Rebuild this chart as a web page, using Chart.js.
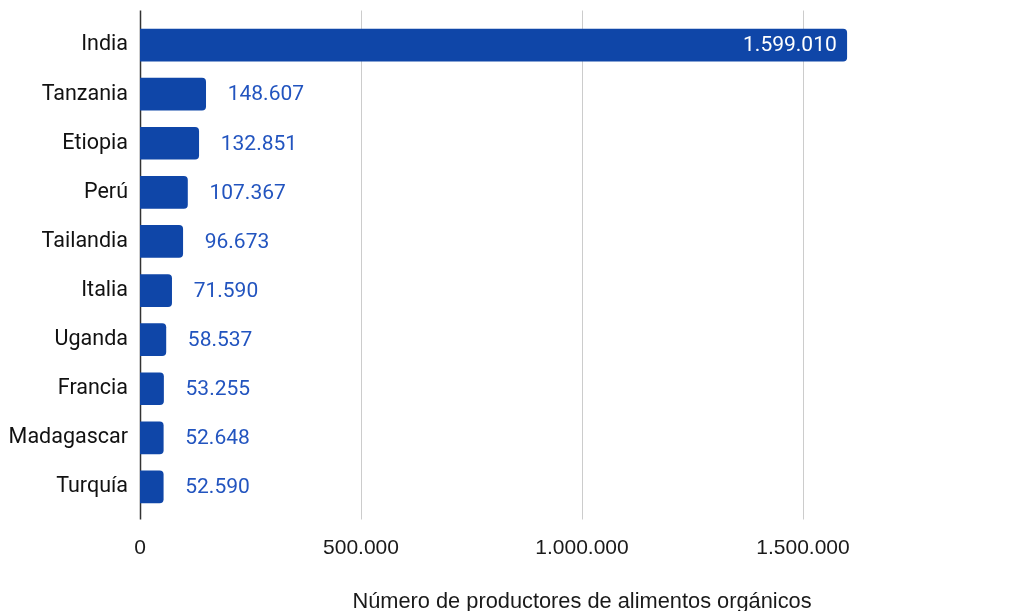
<!DOCTYPE html>
<html>
<head>
<meta charset="utf-8">
<script src="https://cdn.jsdelivr.net/npm/chart.js@4"></script>
<style>
  html, body { margin: 0; padding: 0; background: #ffffff; overflow: hidden; }
  #frame { width: 1014px; height: 611px; overflow: hidden; }
  /* the plot runs a little past the right edge of the picture */
  #wrap { width: 1024px; height: 611px; }
</style>
</head>
<body>
<div id="frame"><div id="wrap"><canvas id="chart"></canvas></div></div>
<script>
//-----------------------------------------------------------------------------
// data
//-----------------------------------------------------------------------------
const countries = ["India", "Tanzania", "Etiopia", "Perú", "Tailandia",
                   "Italia", "Uganda", "Francia", "Madagascar", "Turquía"];
const producers = [1599010, 148607, 132851, 107367, 96673,
                   71590, 58537, 53255, 52648, 52590];
const tickValues = [0, 500000, 1000000, 1500000];
const axisMax = 2000000;
const axisTitle = "Número de productores de alimentos orgánicos";

const barColor = "#0f46a8";
const labelColor = "#2254bf";

// es-ES style thousands separator
const fmt = v => String(v).replace(/\B(?=(\d{3})+(?!\d))/g, ".");

//-----------------------------------------------------------------------------
// grid lines + left axis, drawn a bit taller than the category band
//-----------------------------------------------------------------------------
const extendedGrid = {
    id: "extendedGrid",
    beforeDatasetsDraw(chart){
        const { ctx, chartArea, scales } = chart;
        const top = chartArea.top - 10;
        const bottom = chartArea.bottom + 8;
        ctx.save();
        ctx.lineWidth = 1;
        ctx.strokeStyle = "#cccccc";
        tickValues.forEach(v => {
            if (v === 0) return;
            const x = Math.round(scales.x.getPixelForValue(v)) + 0.5;
            ctx.beginPath();
            ctx.moveTo(x, top);
            ctx.lineTo(x, bottom);
            ctx.stroke();
        });
        ctx.strokeStyle = "#333333";
        ctx.lineWidth = 1.5;
        const x0 = Math.round(scales.x.getPixelForValue(0)) + 0.5;
        ctx.beginPath();
        ctx.moveTo(x0, top);
        ctx.lineTo(x0, bottom);
        ctx.stroke();
        ctx.restore();
    }
};

//-----------------------------------------------------------------------------
// value labels: inside the long bar, outside the others
//-----------------------------------------------------------------------------
const valueLabels = {
    id: "valueLabels",
    afterDatasetsDraw(chart){
        const { ctx } = chart;
        const meta = chart.getDatasetMeta(0);
        ctx.save();
        ctx.font = "21px Roboto";
        ctx.textBaseline = "middle";
        meta.data.forEach((bar, i) => {
            const text = fmt(producers[i]);
            const w = ctx.measureText(text).width;
            if (bar.x - bar.base > w + 30){
                ctx.fillStyle = "#ffffff";
                ctx.textAlign = "right";
                ctx.fillText(text, bar.x - 10, bar.y + 1);
            } else {
                ctx.fillStyle = labelColor;
                ctx.textAlign = "left";
                ctx.fillText(text, bar.x + 22, bar.y + 1);
            }
        });
        ctx.restore();
    }
};

const ctx = document.getElementById("chart").getContext("2d");
const chart = new Chart(ctx, {
    type: "bar",
    data: {
        labels: countries,
        datasets: [{
            data: producers,
            backgroundColor: barColor,
            borderRadius: { topRight: 4, bottomRight: 4, topLeft: 0, bottomLeft: 0 },
            borderSkipped: "start",
            barThickness: 32
        }]
    },
    options: {
        indexAxis: "y",
        responsive: true,
        maintainAspectRatio: false,
        animation: false,
        layout: { padding: { top: 20.5, right: 0, left: 0, bottom: 0 } },
        plugins: {
            legend: { display: false },
            tooltip: { enabled: false }
        },
        scales: {
            x: {
                min: 0,
                max: axisMax,
                afterBuildTicks: axis => {
                    axis.ticks = tickValues.map(v => ({ value: v }));
                },
                afterFit: scale => {
                    scale.height = 99.5;
                    scale.paddingLeft = 0;
                    scale.paddingRight = 0;
                },
                grid: { display: false, drawTicks: false },
                border: { display: false },
                ticks: {
                    color: "#1a1a1a",
                    padding: 24,
                    maxRotation: 0,
                    autoSkip: false,
                    font: { family: "Liberation Sans", size: 21 },
                    callback: v => fmt(v)
                },
                title: {
                    display: true,
                    text: axisTitle,
                    color: "#1a1a1a",
                    font: { family: "Liberation Sans", size: 21.8, lineHeight: 1 },
                    padding: { top: 0, bottom: -2 }
                }
            },
            y: {
                afterFit: scale => {
                    scale.width = 140;
                    scale.paddingTop = 0;
                    scale.paddingBottom = 0;
                },
                grid: { display: false, drawTicks: false },
                border: { display: false },
                ticks: {
                    color: "#111111",
                    padding: 12,
                    font: { family: "Roboto", size: 21.5 }
                }
            }
        }
    },
    plugins: [extendedGrid, valueLabels]
});
</script>
</body>
</html>
